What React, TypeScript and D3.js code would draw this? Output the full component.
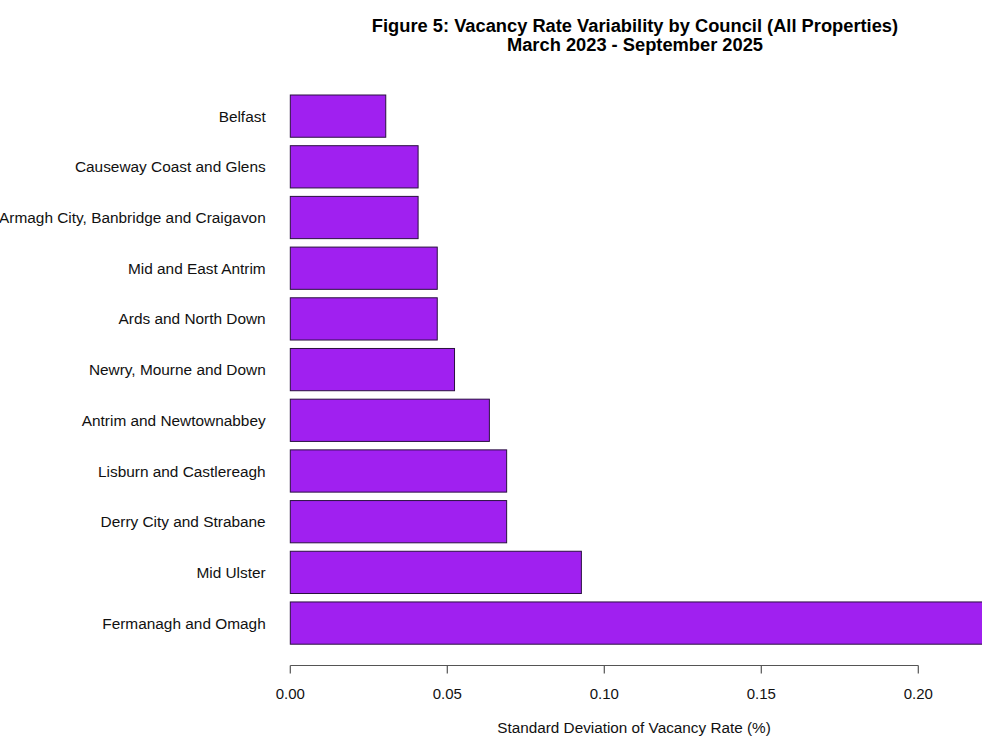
import React from "react";
import * as d3 from "d3";

const councils = [
  "Belfast",
  "Causeway Coast and Glens",
  "Armagh City, Banbridge and Craigavon",
  "Mid and East Antrim",
  "Ards and North Down",
  "Newry, Mourne and Down",
  "Antrim and Newtownabbey",
  "Lisburn and Castlereagh",
  "Derry City and Strabane",
  "Mid Ulster",
  "Fermanagh and Omagh",
];
const stdDev = [0.0304, 0.0407, 0.0407, 0.0468, 0.0468, 0.0523, 0.0634, 0.0689, 0.0689, 0.0927, 0.2216];
const xTicks = [0, 0.05, 0.1, 0.15, 0.2];
const titleLines = [
  "Figure 5: Vacancy Rate Variability by Council (All Properties)",
  "March 2023 - September 2025",
];
const xAxisTitle = "Standard Deviation of Vacancy Rate (%)";

const W = 982;
const H = 736;
const FONT = "'Liberation Sans', Arial, Helvetica, sans-serif";

export default function App() {
  const x = d3.scaleLinear().domain([0, 0.2]).range([290.3, 918.3]);
  const y = d3
    .scaleBand<string>()
    .domain(councils)
    .range([95, 644.2])
    .paddingInner(1 / 6)
    .paddingOuter(0);
  const axisY = 665.5;
  const bw = y.bandwidth();

  return (
    <svg
      width={W}
      height={H}
      viewBox={`0 0 ${W} ${H}`}
      style={{ position: "absolute", left: 0, top: 0, background: "#fff" }}
      fontFamily={FONT}
    >
      <rect x={0} y={0} width={W} height={H} fill="#fff" />
      {titleLines.map((t, i) => (
        <text
          key={i}
          x={635}
          y={32 + i * 19}
          textAnchor="middle"
          fontWeight="bold"
          fontSize={18.3}
          fill="#000"
        >
          {t}
        </text>
      ))}
      {councils.map((c, i) => (
        <g key={c}>
          <rect
            x={x(0)}
            y={y(c)!}
            width={x(stdDev[i]) - x(0)}
            height={bw}
            fill="#A020F0"
            stroke="#2a1040"
            strokeWidth={1}
          />
          <text
            x={265.7}
            y={y(c)! + bw / 2}
            dy="0.36em"
            textAnchor="end"
            fontSize={15.4}
            fill="#111"
          >
            {c}
          </text>
        </g>
      ))}
      <line x1={x(0)} x2={x(0.2)} y1={axisY} y2={axisY} stroke="#555" strokeWidth={1.2} />
      {xTicks.map((t) => (
        <g key={t}>
          <line x1={x(t)} x2={x(t)} y1={axisY} y2={axisY + 8} stroke="#555" strokeWidth={1.2} />
          <text x={x(t)} y={699} textAnchor="middle" fontSize={15} fill="#111">
            {d3.format(".2f")(t)}
          </text>
        </g>
      ))}
      <text x={634} y={733} textAnchor="middle" fontSize={15.3} fill="#111">
        {xAxisTitle}
      </text>
    </svg>
  );
}
